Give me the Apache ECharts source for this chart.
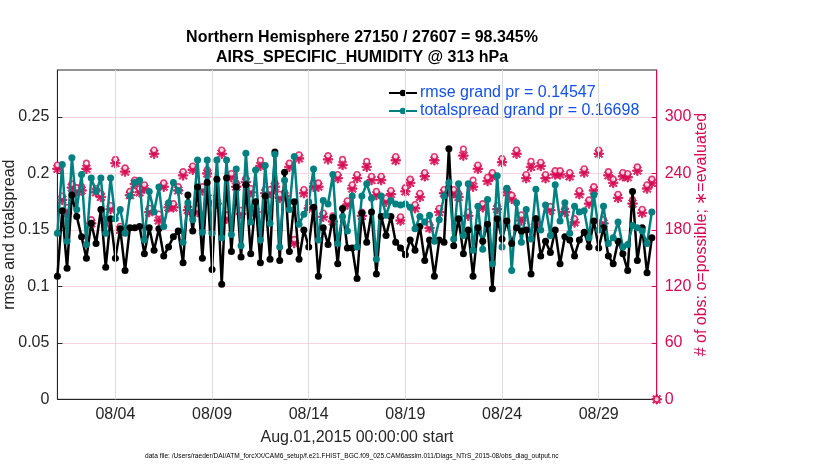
<!DOCTYPE html>
<html>
<head>
<meta charset="utf-8">
<script src="https://cdn.jsdelivr.net/npm/echarts@6/dist/echarts.min.js"></script>
<style>
html,body{margin:0;padding:0;background:#fff;}
#chart{width:830px;height:470px;}
</style>
</head>
<body>
<div id="chart"></div>
<script>
// ---- data (6-hourly bins starting Aug.01,2015 00:00) ----
const binStepDays = 0.25;
const tickDays = [3, 8, 13, 18, 23, 28];
const tickLabels = ['08/04', '08/09', '08/14', '08/19', '08/24', '08/29'];
const leftTicks = [0, 0.05, 0.1, 0.15, 0.2, 0.25];
const rightTicks = [0, 60, 120, 180, 240, 300];

const rmse = [
0.109,0.167,0.116,0.181,0.162,0.144,0.125,0.156,0.138,0.168,
0.117,0.160,0.125,0.151,0.114,0.152,0.152,0.153,0.129,0.152,
0.132,0.151,0.127,0.135,0.144,0.149,0.121,0.181,0.149,0.188,
0.125,0.192,0.115,0.195,0.102,0.196,0.131,0.188,0.126,0.190,
0.129,0.175,0.121,0.180,0.124,0.219,0.123,0.201,0.131,0.175,
0.124,0.150,0.135,0.170,0.109,0.152,0.137,0.161,0.120,0.169,
0.134,0.134,0.107,0.165,0.139,0.166,0.111,0.162,0.145,0.162,
0.139,0.134,0.128,0.141,0.132,0.153,0.123,0.141,0.109,0.141,
0.139,0.222,0.136,0.160,0.129,0.150,0.109,0.152,0.140,0.155,
0.098,0.160,0.142,0.158,0.138,0.152,0.149,0.150,0.111,0.160,
0.127,0.140,0.130,0.150,0.120,0.144,0.141,0.127,0.141,0.148,
0.135,0.158,0.134,0.152,0.127,0.120,0.140,0.129,0.114,0.184,
0.123,0.152,0.112,0.143
];
const totalspread = [
0.147,0.208,0.140,0.214,0.168,0.199,0.137,0.196,0.184,0.196,
0.147,0.196,0.160,0.168,0.147,0.180,0.192,0.194,0.141,0.184,
0.166,0.188,0.153,0.174,0.192,0.185,0.139,0.174,0.159,0.212,
0.148,0.212,0.147,0.212,0.143,0.212,0.146,0.204,0.136,0.218,
0.157,0.203,0.141,0.207,0.156,0.217,0.135,0.194,0.168,0.215,
0.155,0.164,0.175,0.204,0.141,0.176,0.173,0.199,0.138,0.162,
0.149,0.180,0.135,0.180,0.191,0.178,0.124,0.180,0.163,0.176,
0.173,0.172,0.173,0.170,0.151,0.162,0.157,0.163,0.140,0.159,
0.180,0.192,0.142,0.191,0.145,0.191,0.132,0.171,0.133,0.177,
0.120,0.198,0.135,0.187,0.114,0.174,0.139,0.168,0.142,0.186,
0.150,0.172,0.145,0.190,0.158,0.174,0.147,0.171,0.166,0.167,
0.143,0.181,0.150,0.171,0.138,0.143,0.157,0.135,0.137,0.154,
0.152,0.149,0.138,0.166
];
const obsPossible = [
249,216,204,229,225,226,251,191,224,219,
191,206,255,184,246,221,233,224,228,203,
265,197,230,208,208,226,242,205,248,203,
226,244,214,212,265,196,240,230,201,235,
224,203,254,223,223,230,218,220,251,170,
260,223,207,230,230,198,259,195,239,255,
211,228,239,199,253,237,221,237,214,222,
258,194,225,234,207,219,241,186,258,203,
223,225,223,219,266,199,233,249,208,236,
241,206,256,224,217,265,196,239,253,192,
252,239,205,243,243,203,241,192,222,245,
212,226,265,191,242,234,218,241,240,212,
247,202,228,234,0
];
const obsEvaluated = [
245,212,198,225,221,222,245,187,220,215,
187,202,251,180,242,217,229,220,224,199,
261,190,226,204,204,222,238,201,244,199,
222,240,210,208,261,192,236,226,197,231,
220,199,248,219,219,226,214,216,247,166,
256,219,203,226,226,194,255,189,235,249,
207,224,235,195,247,233,217,233,210,218,
254,190,221,230,203,215,237,182,254,199,
219,221,219,215,259,195,226,245,204,232,
237,202,252,220,213,261,190,235,247,186,
248,235,201,239,239,199,237,188,218,241,
208,222,261,187,238,230,214,237,236,208,
243,198,224,230,0
];
const rmseLabel = 'rmse grand pr = 0.14547';
const spreadLabel = 'totalspread grand pr = 0.16698';

// ---- styling ----
const OBS = '#d70a53';
const TEAL = '#008080';
const LEGEND_BLUE = '#1450f0';
const RIGHT_MAX = 350;
const RATIO = 1200; // obs per left-axis unit
const starPath = 'path://M8.5,0 L11.5,0 L11.5,20 L8.5,20 Z M0,8.5 L20,8.5 L20,11.5 L0,11.5 Z M3.5,1.4 L18.6,16.5 L16.5,18.6 L1.4,3.5 Z M16.5,1.4 L18.6,3.5 L3.5,18.6 L1.4,16.5 Z';

const pairs = arr => arr.map((v, i) => [i * binStepDays, v]);

const chart = echarts.init(document.getElementById('chart'), null, {renderer: 'canvas'});
const option = {
  animation: false,
  backgroundColor: '#fff',
  title: {
    text: 'Northern Hemisphere 27150 / 27607 = 98.345%\nAIRS_SPECIFIC_HUMIDITY @ 313 hPa',
    left: 357, top: 23, textAlign: 'center',
    textStyle: {fontFamily: 'Liberation Sans', fontSize: 16, fontWeight: 'bold', color: '#000', lineHeight: 20}
  },
  legend: {
    orient: 'vertical', left: 383, top: 80,
    itemWidth: 28, itemHeight: 8, itemGap: 2,
    data: [rmseLabel, spreadLabel],
    textStyle: {fontFamily: 'Liberation Sans', fontSize: 16, color: LEGEND_BLUE, padding: [0, 0, 0, -2]},
    selectedMode: false
  },
  grid: {left: 57.4, right: 173.3, top: 70, bottom: 70.7, show: true, borderColor: '#262626', borderWidth: 1,
    containLabel: false, outerBoundsMode: 'none'},
  xAxis: {
    type: 'value', min: 0, max: 31,
    name: 'Aug.01,2015 00:00:00 start', nameLocation: 'middle', nameGap: 30, nameMoveOverlap: false,
    nameTextStyle: {fontFamily: 'Liberation Sans', fontSize: 16, color: '#262626'},
    axisLine: {show: true, onZero: false, lineStyle: {color: '#262626'}},
    axisTick: {show: true, inside: true, length: 5, customValues: tickDays, lineStyle: {color: '#262626'}},
    axisLabel: {customValues: tickDays, formatter: v => tickLabels[tickDays.indexOf(Math.round(v))] || '',
      fontFamily: 'Liberation Sans', fontSize: 16, color: '#262626', margin: 7},
    splitLine: {show: false}
  },
  yAxis: [{
    type: 'value', min: 0, max: RIGHT_MAX / RATIO, position: 'left',
    name: 'rmse and totalspread', nameLocation: 'middle', nameGap: 40, nameMoveOverlap: false,
    nameTextStyle: {fontFamily: 'Liberation Sans', fontSize: 16, color: '#262626'},
    axisLine: {show: true, lineStyle: {color: '#262626'}},
    axisTick: {show: true, inside: true, length: 5, customValues: leftTicks, lineStyle: {color: '#262626'}},
    axisLabel: {customValues: leftTicks, formatter: v => String(+v.toFixed(2)),
      fontFamily: 'Liberation Sans', fontSize: 16, color: '#262626', margin: 8},
    splitLine: {show: false}
  }, {
    type: 'value', min: 0, max: RIGHT_MAX, position: 'right',
    name: '# of obs: o=possible; \u2217=evaluated', nameLocation: 'middle', nameGap: 37, nameRotate: 90,
    nameMoveOverlap: false,
    nameTextStyle: {fontFamily: 'Liberation Sans', fontSize: 16, color: OBS},
    axisLine: {show: true, lineStyle: {color: OBS}},
    axisTick: {show: true, inside: true, length: 5, customValues: rightTicks, lineStyle: {color: OBS}},
    axisLabel: {customValues: rightTicks, fontFamily: 'Liberation Sans', fontSize: 16, color: OBS, margin: 8},
    splitLine: {show: true, customValues: rightTicks, lineStyle: {color: '#f6d3de', width: 1}}
  }],
  graphic: [{
    type: 'text', left: 145, top: 453,
    style: {text: 'data file: /Users/raeder/DAI/ATM_forcXX/CAM6_setup/f.e21.FHIST_BGC.f09_025.CAM6assim.011/Diags_NTrS_2015-08/obs_diag_output.nc',
      fontFamily: 'Liberation Sans', fontSize: 6.6, fill: '#000'}
  }],
  series: [{
    type: 'line', name: 'vgrid', data: [], silent: true,
    markLine: {silent: true, symbol: 'none', label: {show: false},
      lineStyle: {color: '#dcdcdc', width: 1, type: 'solid'},
      data: tickDays.map(d => ({xAxis: d}))}
  }, {
    type: 'line', name: rmseLabel, data: pairs(rmse), yAxisIndex: 0,
    symbol: 'circle', symbolSize: 7, showAllSymbol: true,
    lineStyle: {color: '#000', width: 2.5}, itemStyle: {color: '#000'}
  }, {
    type: 'line', name: spreadLabel, data: pairs(totalspread), yAxisIndex: 0,
    symbol: 'circle', symbolSize: 7, showAllSymbol: true,
    lineStyle: {color: TEAL, width: 2.5}, itemStyle: {color: TEAL}
  }, {
    type: 'scatter', name: 'evaluated', data: pairs(obsEvaluated), yAxisIndex: 1,
    symbol: starPath, symbolSize: 9.5, clip: false,
    itemStyle: {color: OBS, borderColor: OBS, borderWidth: 1}
  }, {
    type: 'scatter', name: 'possible', data: pairs(obsPossible), yAxisIndex: 1,
    symbol: 'circle', symbolSize: 5.5, clip: false,
    itemStyle: {color: '#fff', borderColor: OBS, borderWidth: 1.6}
  }]
};
chart.setOption(option);
</script>
</body>
</html>
